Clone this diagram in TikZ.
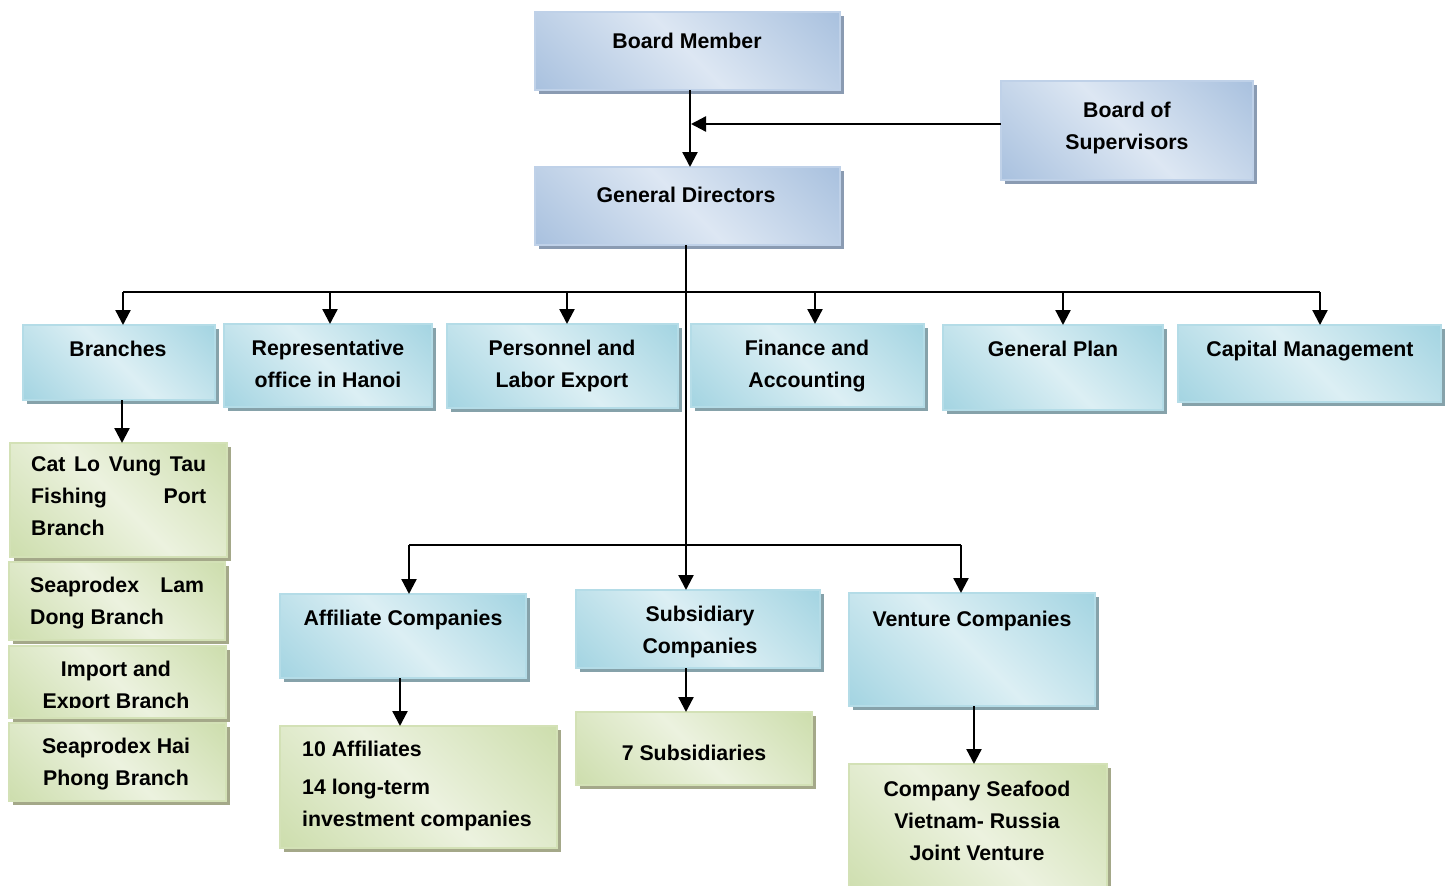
\documentclass[tikz,border=0pt]{standalone}
\usepackage{fontspec}
\setmainfont{Liberation Sans}
\usetikzlibrary{arrows.meta,shadows}
\definecolor{bdk}{HTML}{93B1D6}
\definecolor{blt}{HTML}{DDE7F3}
\definecolor{bbd}{HTML}{BFD1E8}
\definecolor{bsh}{HTML}{8A9BB2}
\definecolor{tdk}{HTML}{8CC9DA}
\definecolor{tlt}{HTML}{DCEFF4}
\definecolor{tbd}{HTML}{B4DCE7}
\definecolor{tsh}{HTML}{86A2AA}
\definecolor{gdk}{HTML}{C0D598}
\definecolor{glt}{HTML}{ECF2DF}
\definecolor{gbd}{HTML}{D3E1B6}
\definecolor{gsh}{HTML}{A4A889}
\pgfdeclarehorizontalshading{blsh}{100bp}{color(0bp)=(bdk); color(50bp)=(blt); color(100bp)=(bdk)}
\pgfdeclarehorizontalshading{tlsh}{100bp}{color(0bp)=(tdk); color(50bp)=(tlt); color(100bp)=(tdk)}
\pgfdeclarehorizontalshading{glsh}{100bp}{color(0bp)=(gdk); color(50bp)=(glt); color(100bp)=(gdk)}
\tikzset{
  box/.style={anchor=north west, inner sep=0pt, outer sep=0pt, line width=1.5pt, shading angle=45},
  bluebox/.style={box, draw=bbd, shading=blsh, general shadow={shadow xshift=4pt, shadow yshift=-4pt, fill=bsh}},
  tealbox/.style={box, draw=tbd, shading=tlsh, general shadow={shadow xshift=4pt, shadow yshift=-4pt, fill=tsh}},
  greenbox/.style={box, draw=gbd, shading=glsh, general shadow={shadow xshift=4pt, shadow yshift=-4pt, fill=gsh}},
  txt/.style={font=\bfseries\fontsize{21.3}{32}\selectfont, align=center, inner sep=0pt, anchor=base},
  ltxt/.style={txt, align=left, anchor=base west},
  conn/.style={line width=2.3pt, -{Triangle[width=15pt,length=15pt]}},
  bus/.style={line width=2.3pt},
}
\newcommand\mybox[6]{\node[#6, minimum width=#4pt-#2pt, minimum height=#5pt-#3pt] (#1) at (#2,#3) {};}
\begin{document}
\begin{tikzpicture}[x=1pt,y=-1pt]
\path[use as bounding box, clip] (0,0) rectangle (1452,886);
\fill[white] (0,0) rectangle (1452,886);
% boxes
\mybox{bm}{535}{12}{840}{90}{bluebox}
\mybox{bs}{1001}{81}{1253}{180}{bluebox}
\mybox{gd}{535}{167}{840}{245}{bluebox}
\mybox{br}{23}{325}{215}{400}{tealbox}
\mybox{rep}{224}{324}{432}{407}{tealbox}
\mybox{per}{447}{324}{678}{408}{tealbox}
\mybox{fin}{691}{324}{924}{407}{tealbox}
\mybox{gp}{943}{325}{1163}{410}{tealbox}
\mybox{cap}{1178}{325}{1441}{402}{tealbox}
\mybox{cl}{10}{443}{227}{557}{greenbox}
\mybox{ld}{9}{562}{225}{640}{greenbox}
\mybox{ie}{9}{646}{226}{718}{greenbox}
\mybox{hp}{9}{723}{226}{801}{greenbox}
\mybox{aff}{280}{594}{526}{678}{tealbox}
\mybox{sub}{576}{590}{820}{668}{tealbox}
\mybox{ven}{849}{593}{1095}{706}{tealbox}
\mybox{ten}{280}{726}{557}{848}{greenbox}
\mybox{sev}{576}{712}{812}{785}{greenbox}
\mybox{jv}{849}{764}{1107}{900}{greenbox}
% texts (anchor = baseline of the last line)
\node[txt] (bmt) at (687,48) {Board Member};
\node[txt] (bst) at (1127,149) {Board of\\Supervisors};
\node[txt] (gdt) at (686,202) {General Directors};
\node[txt] (brt) at (118,356) {Branches};
\node[txt] (rept) at (328,387) {Representative\\office in Hanoi};
\node[txt] (pert) at (562,387) {Personnel and\\Labor Export};
\node[txt] (fint) at (807,387) {Finance and\\Accounting};
\node[txt] (gpt) at (1053,356) {General Plan};
\node[txt] (capt) at (1310,356) {Capital Management};
\node[ltxt] (clt) at (31,535) {\makebox[175pt][s]{Cat Lo Vung Tau}\\\makebox[175pt][s]{Fishing Port}\\Branch};
\node[ltxt] (ldt) at (30,624) {\makebox[174pt][s]{Seaprodex Lam}\\Dong Branch};
\begin{scope}
\clip (9,646) rectangle (226,707);
\node[txt] (iet) at (116,708) {Import and\\Export Branch};
\end{scope}
\node[txt] (hpt) at (116,785) {Seaprodex Hai\\Phong Branch};
\node[txt] (afft) at (403,625) {Affiliate Companies};
\node[txt] (subt) at (700,653) {Subsidiary\\Companies};
\node[txt] (vent) at (972,626) {Venture Companies};
\node[ltxt] (tent) at (302,826) {10 Affiliates\\[6pt]14 long-term\\investment companies};
\node[txt] (sevt) at (694,760) {7 Subsidiaries};
\node[txt] (jvt) at (977,860) {Company Seafood\\Vietnam- Russia\\Joint Venture};
% connectors
\coordinate (v1) at (690,124);
\draw[conn] (bm.south -| v1) -- (gd.north -| v1);
\draw[conn] (bs.west |- v1) -- ([xshift=1pt]v1);
\coordinate (v2) at (686,292);
\draw[conn] (gd.south -| v2) -- (sub.north -| v2);
\coordinate (b1) at (123,292);
\coordinate (b2) at (330,292);
\coordinate (b3) at (567,292);
\coordinate (b4) at (815,292);
\coordinate (b5) at (1063,292);
\coordinate (b6) at (1320,292);
\draw[bus] (b1) -- (b6);
\draw[conn] (b1) -- (b1 |- br.north);
\draw[conn] (b2) -- (b2 |- rep.north);
\draw[conn] (b3) -- (b3 |- per.north);
\draw[conn] (b4) -- (b4 |- fin.north);
\draw[conn] (b5) -- (b5 |- gp.north);
\draw[conn] (b6) -- (b6 |- cap.north);
\coordinate (c0) at (122,0);
\draw[conn] (br.south -| c0) -- (cl.north -| c0);
\coordinate (d1) at (409,545);
\coordinate (d2) at (961,545);
\draw[bus] (d1) -- (d2);
\draw[conn] (d1) -- (d1 |- aff.north);
\draw[conn] (d2) -- (d2 |- ven.north);
\coordinate (e1) at (400,0);
\draw[conn] (aff.south -| e1) -- (ten.north -| e1);
\draw[conn] (sub.south -| v2) -- (sev.north -| v2);
\coordinate (e3) at (974,0);
\draw[conn] (ven.south -| e3) -- (jv.north -| e3);
\end{tikzpicture}
\end{document}
